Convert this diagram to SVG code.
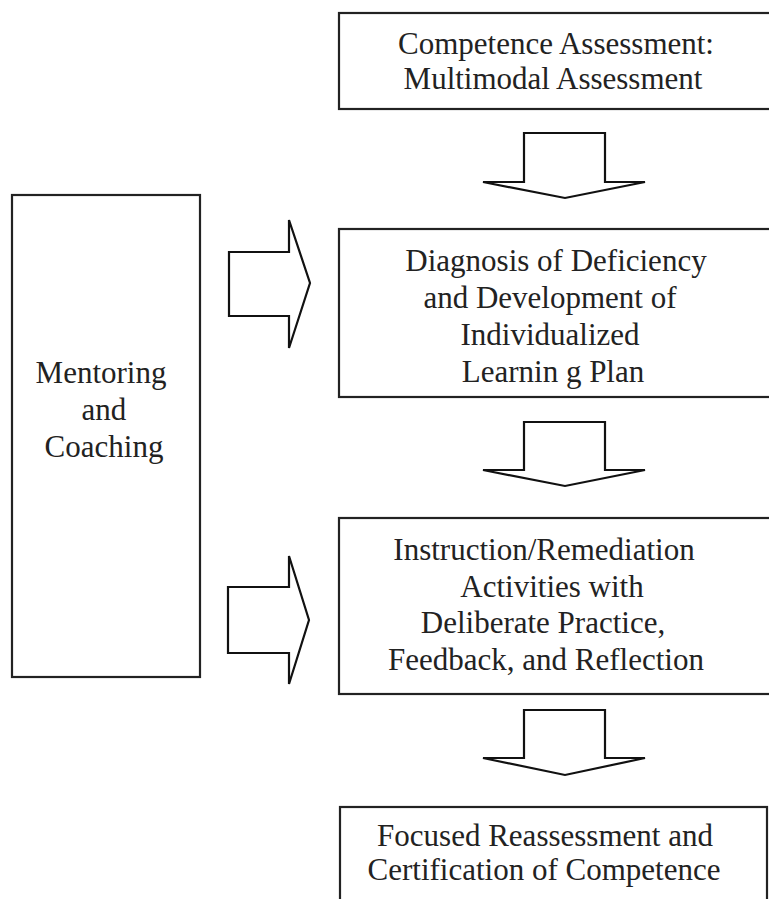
<svg xmlns="http://www.w3.org/2000/svg" width="769" height="899" viewBox="0 0 769 899">
<style>
.box{fill:#fff;stroke:#222;stroke-width:2.2}
.arr{fill:#fff;stroke:#111;stroke-width:2.2;stroke-linejoin:miter}
text{font-family:"Liberation Serif","Times New Roman",serif;font-size:31px;fill:#222;text-anchor:middle}
</style>
<rect width="769" height="899" fill="#fff"/>
<g id="node-competence">
<rect class="box" x="339" y="13" width="440" height="96"/>
<text x="556" y="54">Competence Assessment:</text>
<text x="553" y="89">Multimodal Assessment</text>
</g>
<g id="node-diagnosis">
<rect class="box" x="339" y="229" width="440" height="168"/>
<text x="556" y="271">Diagnosis of Deficiency</text>
<text x="550" y="308">and Development of</text>
<text x="550" y="345">Individualized</text>
<text x="553" y="382">Learnin g Plan</text>
</g>
<g id="node-instruction">
<rect class="box" x="339" y="518" width="440" height="176"/>
<text x="544" y="560">Instruction/Remediation</text>
<text x="552" y="597">Activities with</text>
<text x="543" y="633">Deliberate Practice,</text>
<text x="546" y="670">Feedback, and Reflection</text>
</g>
<g id="node-reassessment">
<rect class="box" x="340" y="807" width="427" height="120"/>
<text x="545" y="846">Focused Reassessment and</text>
<text x="544" y="880">Certification of Competence</text>
</g>
<g id="node-mentoring">
<rect class="box" x="12" y="195" width="188" height="482"/>
<text x="101" y="383">Mentoring</text>
<text x="104" y="420">and</text>
<text x="104" y="457">Coaching</text>
</g>
<g id="connectors">
<polygon class="arr" points="524,133 605,133 605,182 645,182 565,198 483,182 524,182"/>
<polygon class="arr" points="524,422 605,422 605,470 645,470 565,486 483,470 524,470"/>
<polygon class="arr" points="524,710 605,710 605,758 645,758 565,775 483,758 524,758"/>
<polygon class="arr" points="229,252 289,252 289,220 310,283 289,348 289,316 229,316"/>
<polygon class="arr" points="228,587 289,587 289,556 309,620 289,684 289,653 228,653"/>
</g>
</svg>
